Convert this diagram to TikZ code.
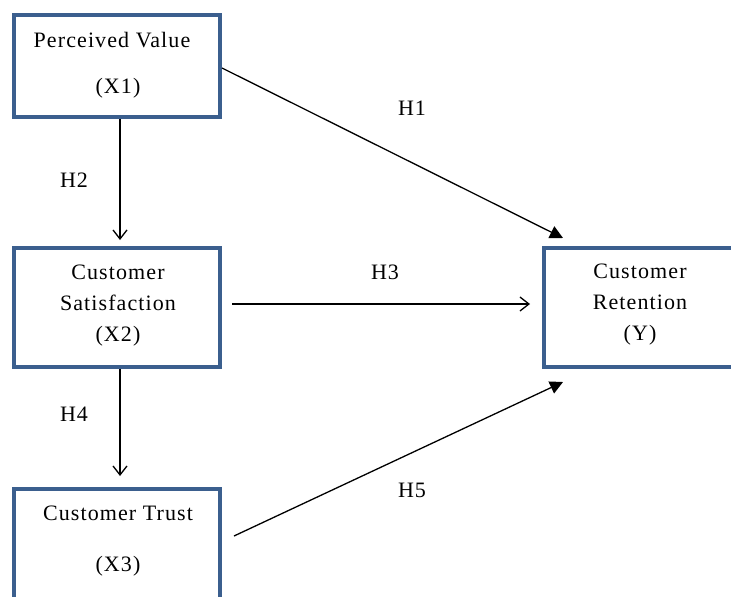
\documentclass[tikz,border=0pt]{standalone}
\usepackage{fontspec}
\setmainfont{Liberation Serif}
\newfontfamily\diagfont[LetterSpace=5]{Liberation Serif}
\usetikzlibrary{arrows.meta}
\definecolor{boxblue}{HTML}{3B5F8E}
\begin{document}
\begin{tikzpicture}[x=1pt,y=-1pt,
  varbox/.style={draw=boxblue,line width=4.2pt,fill=white},
  txt/.style={font=\diagfont\fontsize{22}{24}\selectfont,inner sep=0pt},
  openarr/.style={line width=1.3pt,-{Straight Barb[length=9pt,width=14pt,line width=1.3pt]}},
  fillarr/.style={line width=1.3pt,-{Triangle[length=13pt,width=13pt]}},
  lbl/.style={font=\diagfont\fontsize{22}{24}\selectfont,inner sep=0pt}]
\useasboundingbox[fill=white] (0,0) rectangle (731,597);
% boxes
\node[varbox,minimum width=206pt,minimum height=102pt] (pv) at (117,66) {};
\node[varbox,minimum width=206pt,minimum height=119pt] (cs) at (117,307.5) {};
\node[varbox,minimum width=206pt,minimum height=140pt] (ct) at (117,559) {};
\node[varbox,minimum width=206pt,minimum height=119pt] (cr) at (647,307.5) {};
% texts
\node[txt] (pvt) at (112,40) {Perceived Value};
\node[txt] (pvx) at (118,88) {(X1)};
\node[txt] (cst1) at (118,272) {Customer};
\node[txt] (cst2) at (118,303) {Satisfaction};
\node[txt] (csx) at (118,336) {(X2)};
\node[txt] (ctt) at (118,513) {Customer Trust};
\node[txt] (ctx) at (118,566) {(X3)};
\node[txt] (crt1) at (640,271) {Customer};
\node[txt] (crt2) at (640,302) {Retention};
\node[txt] (crx) at (640,335) {(Y)};
% connector endpoints
\coordinate (a1s) at (222,68);
\coordinate (a1e) at (563,238);
\coordinate (a3s) at (232,304);
\coordinate (a3e) at (530,304);
\coordinate (a5s) at (234,536);
\coordinate (a5e) at (563,382);
\coordinate (a2s) at (120,119);
\coordinate (a2e) at (120,240);
\coordinate (a4s) at (120,369);
\coordinate (a4e) at (120,476);
\draw[fillarr] (a1s) -- (a1e);
\draw[openarr] (a3s) -- (a3e);
\draw[fillarr] (a5s) -- (a5e);
\draw[openarr] (a2s) -- (a2e);
\draw[openarr] (a4s) -- (a4e);
% labels
\node[lbl] (h1) at (412,108) {H1};
\node[lbl] (h2) at (74,180) {H2};
\node[lbl] (h3) at (385,272) {H3};
\node[lbl] (h4) at (74,414) {H4};
\node[lbl] (h5) at (412,490) {H5};
\end{tikzpicture}
\end{document}
